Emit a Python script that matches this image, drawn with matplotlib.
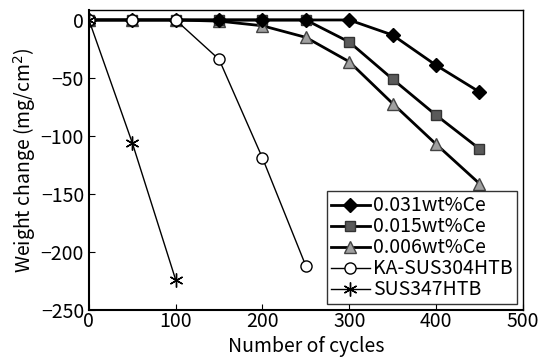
import matplotlib
matplotlib.use('Agg')
import matplotlib.pyplot as plt

plt.rcParams['font.family'] = ['Noto Sans CJK JP', 'DejaVu Sans']

cycles = [0, 50, 100, 150, 200, 250, 300, 350, 400, 450]
ce031 = [0, 0, 0, 0, 0, 0, 0, -13, -39, -62]
ce015 = [0, 0, 0, 0, 0, 0, -19, -51, -82, -111]
ce006 = [0, 0, 0, -1, -5, -15, -36, -72, -107, -141]
ka_cycles = [0, 50, 100, 150, 200, 250]
ka304 = [0, 0, 0, -34, -119, -212]
sus_cycles = [0, 50, 100]
sus347 = [0, -106, -224]

fig = plt.figure(figsize=(5.39, 3.61), dpi=100)
ax = fig.add_axes([0.165, 0.141, 0.805, 0.831])

ax.plot(cycles, ce031, '-', color='black', lw=2.0, marker='D', ms=7,
        mfc='black', mec='black', label='0.031wt%Ce', zorder=5)
ax.plot(cycles, ce015, '-', color='black', lw=2.0, marker='s', ms=7,
        mfc='#5a5a5a', mec='#333333', label='0.015wt%Ce', zorder=4)
ax.plot(cycles, ce006, '-', color='black', lw=2.0, marker='^', ms=8,
        mfc='#a0a0a0', mec='#444444', label='0.006wt%Ce', zorder=3)
ax.plot(ka_cycles, ka304, '-', color='black', lw=1.0, marker='o', ms=8,
        mfc='white', mec='black', label='KA-SUS304HTB', zorder=6)
ax.plot(sus_cycles, sus347, '-', color='black', lw=1.0, marker=(6, 2, 0), ms=10,
        mec='black', mew=1.0, label='SUS347HTB', zorder=7)

ax.set_xlim(0, 500)
ax.set_ylim(-250, 8.5)
ax.set_xticks([0, 100, 200, 300, 400, 500])
ax.set_yticks([0, -50, -100, -150, -200, -250])
ax.tick_params(direction='in', labelsize=14, length=4, width=0.8)
ax.tick_params(axis='x', pad=1)
ax.set_yticklabels(['0', '\u221250', '\u2212100', '\u2212150', '\u2212200', '\u2212250'])
for s in ax.spines.values():
    s.set_linewidth(1.0)
ax.spines['left'].set_linewidth(1.5)
ax.spines['bottom'].set_linewidth(1.5)

ax.set_xlabel('Number of cycles', fontsize=14)
ax.xaxis.set_label_coords(0.5, -0.085)
ax.set_ylabel('Weight change (mg/cm$^2$)', fontsize=14, labelpad=2)

leg = ax.legend(loc='lower right', fontsize=14, frameon=True, fancybox=False,
                edgecolor='black', borderpad=0.2, labelspacing=0.0,
                handlelength=2.0, handletextpad=0.2, borderaxespad=0.3)
leg.get_frame().set_linewidth(1.0)

fig.savefig('out.png', dpi=100)
